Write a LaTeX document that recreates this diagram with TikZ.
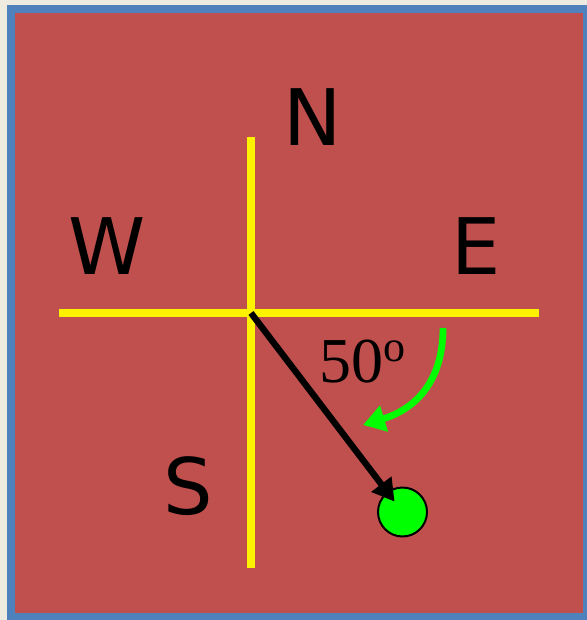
\documentclass[tikz,border=0pt]{standalone}
\usepackage{fontspec}
\setmainfont{Liberation Serif}
\newfontfamily\dirfont{DejaVu Sans}
\usetikzlibrary{arrows.meta}
\definecolor{paper}{HTML}{EEECE1}
\definecolor{frameblue}{HTML}{4F81BD}
\definecolor{boxred}{HTML}{C0504D}
\definecolor{lime}{HTML}{00FF00}
\tikzset{
    axis/.style={yellow,line width=4pt},
    dirlabel/.style={inner sep=0pt,font=\dirfont\fontsize{39}{39}\selectfont},
}
\begin{document}
\begin{tikzpicture}[x=0.5pt,y=-0.5pt]
    \fill[paper] (0,0) rectangle (587,620);
    \fill[frameblue] (7,5) rectangle (587,620); % frame
    \fill[boxred] (15,13) rectangle (583,613);
    \coordinate (O) at (251,313); % crossing point
    \coordinate (top) at (251,137);
    \coordinate (bottom) at (251,568);
    \coordinate (left) at (59,313);
    \coordinate (right) at (539,313);
    \draw[axis] (top) -- (bottom) (left) -- (right);
    \node[dirlabel] (N) at (313,117) {N};
    \node[dirlabel] (W) at (107,246) {W};
    \node[dirlabel] (E) at (476,246) {E};
    \node[dirlabel] (S) at (188,486) {S};
    \node[circle,fill=lime,draw=black,line width=1pt,minimum size=24.5pt,inner sep=0pt] (ball) at (402.5,512) {};
    \draw[line width=3.2pt,-{Triangle[length=11pt,width=12pt]},shorten >=6.5pt] (O) -- (ball.center);
    \node[inner sep=0pt] (angle) at (362,362) {\fontsize{32}{32}\selectfont 50\raisebox{10.5pt}{\fontsize{22}{22}\selectfont o}};
    \coordinate (sweep) at (443,328);
    \draw[lime,line width=3.4pt,-{Triangle[length=11pt,width=13pt]}] (sweep) .. controls (443,385) and (412,410) .. (363,425); % turn from east
\end{tikzpicture}
\end{document}
